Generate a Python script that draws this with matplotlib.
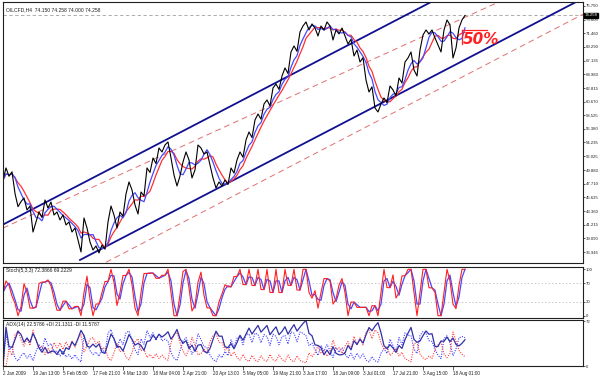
import numpy as np
import pandas as pd
import matplotlib
matplotlib.use("Agg")
import matplotlib.pyplot as plt

# ---------------- data ----------------
symbol_title = "OILCFD,H4  74.150 74.258 74.000 74.258"
stoch_title = "Stoch(5,3,3) 72.3866 69.2229"
adx_title = "ADX(14) 22.5786 +DI 21.1311 -DI 11.5787"

close = [48.31, 50.21, 48.90, 49.60, 46.20, 44.10, 44.90, 45.48, 43.58, 44.20,
         40.11, 41.69, 43.27, 42.40, 45.16, 43.90, 44.84, 42.79, 43.27, 42.01,
         42.80, 41.22, 41.69, 40.11, 40.74, 38.85, 36.96, 42.32, 40.74, 38.54,
         37.27, 37.91, 36.80, 38.06, 37.40, 41.69, 44.21, 42.79, 40.74, 43.27,
         42.60, 46.11, 48.00, 46.74, 44.37, 42.95, 46.42, 45.80, 50.21, 49.50,
         51.78, 50.90, 53.36, 52.73, 53.83, 54.31, 51.78, 49.10, 47.37, 48.94,
         51.15, 52.73, 51.47, 48.63, 49.89, 53.83, 53.36, 52.41, 52.73, 50.68,
         48.63, 47.05, 48.00, 47.37, 48.31, 47.60, 50.21, 49.40, 51.47, 52.73,
         51.90, 54.62, 55.88, 55.00, 57.78, 58.72, 57.90, 60.30, 60.93, 60.00,
         62.82, 63.45, 62.60, 64.71, 65.98, 65.10, 68.50, 69.45, 68.60, 71.65,
         72.60, 73.23, 71.97, 72.92, 72.28, 71.02, 72.60, 71.97, 73.23, 72.60,
         70.39, 71.97, 71.34, 72.28, 71.02, 69.76, 70.50, 67.87, 68.81, 66.92,
         67.60, 64.08, 62.19, 63.00, 59.67, 59.04, 60.30, 61.25, 60.50, 63.14,
         62.51, 61.56, 64.40, 63.60, 66.92, 67.55, 68.50, 65.66, 64.71, 68.81,
         71.18, 71.97, 71.34, 71.97, 70.71, 69.60, 68.50, 71.97, 73.55, 72.76,
         67.55, 69.13, 72.28, 73.55, 74.26]

date_ticks = [0, 10, 20, 30, 40, 50, 60, 70, 80, 90, 100, 110, 120, 130, 140, 150]
date_labels = ["2 Jan 2009", "19 Jan 13:00", "5 Feb 05:00", "17 Feb 21:00",
               "4 Mar 13:00", "18 Mar 04:00", "2 Apr 21:00", "20 Apr 13:00",
               "5 May 05:00", "19 May 21:00", "3 Jun 17:00", "18 Jun 09:00",
               "3 Jul 01:00", "17 Jul 21:00", "3 Aug 15:00", "18 Aug 01:00"]

price_ticks = [75.750, 73.605, 71.460, 69.290, 67.135, 64.980, 62.815, 60.670,
               58.525, 56.380, 54.235, 52.025, 49.880, 47.710, 45.625, 43.360,
               41.215, 39.090, 36.945]
last_price = 74.258

# channel lines (bar index, price)
upper_x = [0, 194]
upper_y = [41.28, 89.00]
lower_x = [25.67, 194]
lower_y = [35.70, 77.12]
mid_dash_x = [0, 194]
mid_dash_y = [40.74, 82.59]
low_dash_x = [25.67, 194]
low_dash_y = [33.20, 74.62]

fifty_x = [153, 161.3]
fifty_y = [71.97, 71.97]

stoch_levels = [70, 30]
stoch_ticks = [100, 70, 30, 0]
adx_ticks = [72, 0]

# ---------------- derived indicators ----------------
s = pd.Series(close, dtype=float)
x = np.arange(len(s))
ma_fast = s.rolling(4, min_periods=1).mean()
ma_slow = s.rolling(6, min_periods=1).mean()

lo = s.rolling(3, min_periods=1).min()
hi = s.rolling(3, min_periods=1).max()
rng = (hi - lo).replace(0, np.nan)
k_raw = (100 * (s - lo) / rng).fillna(50)
k = k_raw.rolling(2, min_periods=1).mean()
d = k.rolling(2, min_periods=1).mean()

diff = s.diff().fillna(0)
up = diff.clip(lower=0)
dn = (-diff).clip(lower=0)
tr = diff.abs() + 1.1
a = 1 / 3
pdi = 100 * up.ewm(alpha=a).mean() / tr.ewm(alpha=a).mean()
mdi = 100 * dn.ewm(alpha=a).mean() / tr.ewm(alpha=a).mean()
dx = 100 * (pdi - mdi).abs() / (pdi + mdi).replace(0, np.nan)
adx = dx.fillna(0).ewm(alpha=0.4).mean()

# ---------------- figure ----------------
fig = plt.figure(figsize=(6.0, 3.76), dpi=100)
fig.patch.set_facecolor("white")
W, H = 600.0, 376.0
left, right = 3, 583


def box(top, bottom):
    return [left / W, 1 - bottom / H, (right - left) / W, (bottom - top) / H]


ax = fig.add_axes(box(2, 263))
ax_s = fig.add_axes(box(267, 318))
ax_a = fig.add_axes(box(320, 366))

xmax = (right - left) / 3.0
tfont = dict(family="Liberation Sans", size=3.6)
LS = 3.1

for a_ in (ax, ax_s, ax_a):
    a_.set_xlim(0, xmax)
    a_.set_facecolor("white")
    for sp in a_.spines.values():
        sp.set_color("#202020")
        sp.set_linewidth(0.8)
    a_.yaxis.tick_right()
    a_.tick_params(axis="y", direction="out", length=1.5, width=0.5, pad=0.6,
                   labelsize=LS, colors="#202020")
    a_.tick_params(axis="x", bottom=False, labelbottom=False)

# main panel
ax.set_ylim(35.22, 76.38)
ax.set_yticks(price_ticks)
ax.set_yticklabels([f"{v:.3f}" for v in price_ticks], family="Liberation Sans", fontsize=LS)
ax.axhline(last_price, color="#a0a0a0", lw=0.6, ls=(0, (4, 3)))
ax.plot(upper_x, upper_y, color="#101090", lw=1.3)
ax.plot(lower_x, lower_y, color="#101090", lw=1.3)
ax.plot(mid_dash_x, mid_dash_y, color="#e07070", lw=0.7, ls=(0, (6, 4)))
ax.plot(low_dash_x, low_dash_y, color="#e07070", lw=0.7, ls=(0, (6, 4)))
ax.plot(x, ma_slow, color="#ff3030", lw=0.9)
ax.plot(x, ma_fast, color="#4848ff", lw=0.9)
ax.plot(x, s, color="black", lw=0.8)
ax.plot(fifty_x, fifty_y, color="#ff2020", lw=0.9)
ax.plot([fifty_x[0], fifty_x[0]], [fifty_y[0], fifty_y[0] - 2.2], color="#ff2020", lw=0.9)
ax.text(fifty_x[0] + 0.3, fifty_y[0] - 0.3, "50%", color="#ff2020", fontsize=11,
        fontstyle="italic", fontweight="bold", va="top", ha="left")
ax.text(1.0, 75.2, symbol_title, color="#202020", va="center", ha="left", **tfont)
ax.text(xmax + 0.5, last_price, f"{last_price:.3f}", color="white", fontsize=LS,
        family="Liberation Sans", va="center", ha="left", clip_on=False,
        bbox=dict(boxstyle="square,pad=0.12", fc="black", ec="black"))

# stochastic panel
ax_s.set_ylim(-5, 105)
ax_s.set_yticks(stoch_ticks)
ax_s.set_yticklabels([str(v) for v in stoch_ticks], family="Liberation Sans", fontsize=LS)
for lv in stoch_levels:
    ax_s.axhline(lv, color="#b0b0b0", lw=0.5, ls=(0, (2, 3)))
ax_s.plot(x, d, color="#4848ff", lw=0.9)
ax_s.plot(x, k, color="#ff2020", lw=0.8)
ax_s.text(1.0, 98, stoch_title, color="#202020", va="center", ha="left", **tfont)

# ADX panel
ax_a.set_ylim(0, 74)
ax_a.set_yticks(adx_ticks)
ax_a.set_yticklabels([str(v) for v in adx_ticks], family="Liberation Sans", fontsize=LS)
ax_a.plot(x, pdi, color="#3c3cff", lw=0.8, ls=(0, (1, 1.2)))
ax_a.plot(x, mdi, color="#ff4040", lw=0.8, ls=(0, (1, 1.2)))
ax_a.plot(x, adx, color="#3030a8", lw=0.9)
ax_a.text(1.0, 66, adx_title, color="#202020", va="center", ha="left", **tfont)

ax_a.tick_params(axis="x", bottom=True, labelbottom=True, direction="out",
                 length=3, width=0.5, pad=0.8, colors="#202020")
ax_a.set_xticks(date_ticks)
ax_a.set_xticklabels(date_labels, family="Liberation Sans", fontsize=3.3, ha="left")

fig.savefig("out.png", dpi=100, facecolor="white")
